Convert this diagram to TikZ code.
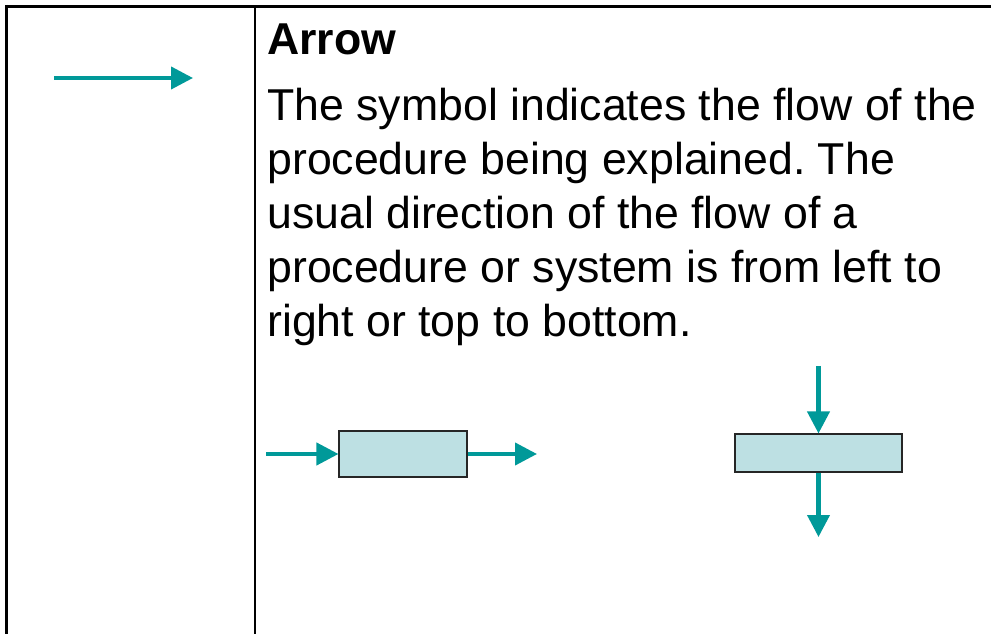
\documentclass[tikz,border=0pt]{standalone}
\usepackage{fontspec}
\setmainfont{Liberation Sans}
\usetikzlibrary{arrows.meta,positioning}
\frenchspacing

\definecolor{flowteal}{RGB}{0,153,153}
\definecolor{boxfill}{RGB}{189,224,227}

\begin{document}
\begin{tikzpicture}[
  x=0.02cm, y=-0.02cm,
  rule/.style={draw=black, line width=1.7pt},
  flow/.style={draw=flowteal, line width=2.3pt, -{Triangle[length=0.44cm, width=0.44cm]}},
  procbox/.style={draw=black!85, fill=boxfill, line width=0.6pt, inner sep=0pt},
  txt/.style={inner sep=0pt, font=\fontsize{25.4}{30.7}\selectfont}
]
  \useasboundingbox (0,0) rectangle (991,634);

  % table rules
  \draw[rule] (5,6.5) -- (991,6.5);
  \draw[rule] (6.5,5) -- (6.5,634);
  \draw[rule, line width=1.1pt] (255,6) -- (255,634);

  % symbol column
  \coordinate (syma) at (54,78);
  \coordinate (symb) at (193,78);
  \draw[flow] (syma) -- (symb);

  % description column
  \node[txt, anchor=base west, font=\fontsize{25.4}{30.7}\selectfont\bfseries] (title) at (267,55) {Arrow};
  \node[txt, anchor=north west, align=left] (body) at (267,88) {The symbol indicates the flow of the\\
    procedure being explained. The\\
    usual direction of the flow of a\\
    procedure or system is from left to\\
    right or top to bottom.};

  % left to right example
  \node[procbox, minimum width=2.56cm, minimum height=0.92cm] (boxa) at (403,454) {};
  \coordinate (ina) at (266,454);
  \coordinate (outa) at (537,454);
  \draw[flow] (ina) -- (boxa.west);
  \draw[flow] (boxa.east) -- (outa);

  % top to bottom example
  \node[procbox, minimum width=3.34cm, minimum height=0.76cm] (boxb) at (818.5,453) {};
  \coordinate (inb) at (818.5,366);
  \coordinate (outb) at (818.5,537);
  \draw[flow] (inb) -- (boxb.north);
  \draw[flow] (boxb.south) -- (outb);
\end{tikzpicture}
\end{document}
